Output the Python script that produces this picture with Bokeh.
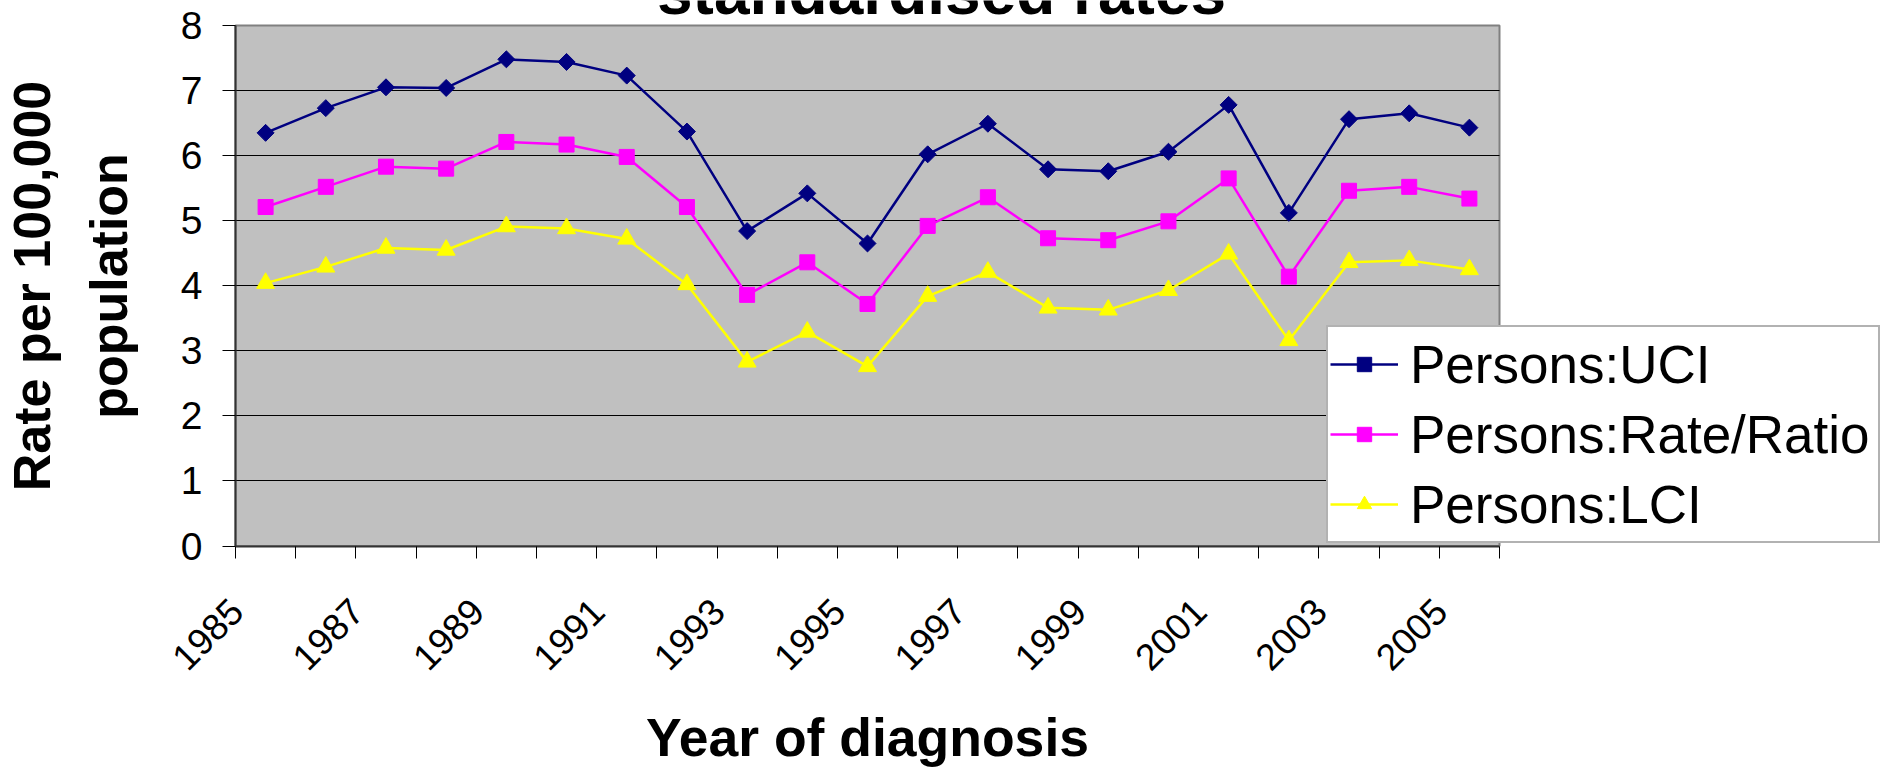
import math
from bokeh.plotting import figure
from bokeh.models import (FixedTicker, NumeralTickFormatter, Label, Legend,
                          LegendItem, Range1d, BoxAnnotation)
from bokeh.embed import file_html
from bokeh.resources import INLINE

# ---------------- data ----------------
years = list(range(1985, 2006))
uci = [6.35, 6.73, 7.05, 7.04, 7.48, 7.44, 7.23, 6.37, 4.84, 5.42, 4.65,
       6.02, 6.49, 5.79, 5.76, 6.06, 6.78, 5.12, 6.56, 6.65, 6.43]
rate = [5.21, 5.52, 5.83, 5.80, 6.21, 6.17, 5.98, 5.21, 3.86, 4.36, 3.72,
        4.92, 5.36, 4.73, 4.70, 4.99, 5.65, 4.14, 5.46, 5.52, 5.34]
lci = [4.04, 4.29, 4.58, 4.55, 4.91, 4.88, 4.72, 4.02, 2.83, 3.29, 2.76,
       3.84, 4.21, 3.66, 3.63, 3.93, 4.49, 3.16, 4.36, 4.39, 4.25]
series_names = ["Persons:UCI", "Persons:Rate/Ratio", "Persons:LCI"]
label_years = [1985, 1987, 1989, 1991, 1993, 1995, 1997, 1999, 2001, 2003, 2005]
y_ticks = [0, 1, 2, 3, 4, 5, 6, 7, 8]
title_text = "standardised rates"
x_title = "Year of diagnosis"
y_title = "Rate per 100,000\npopulation"

FONT = "Liberation Sans"

# ---------------- layout (canvas pixels) ----------------
W, H = 1885, 771
PX_LEFT, PX_RIGHT = 235.0, 1499.0      # plot-area left / right
PX_TOP, PX_BOT = 25.0, 545.5           # plot-area top / bottom

x_start, x_end = years[0] - 0.5, years[-1] + 0.5
y_start, y_end = y_ticks[0], y_ticks[-1]
xs = (PX_RIGHT - PX_LEFT) / (x_end - x_start)
ys = (PX_BOT - PX_TOP) / (y_end - y_start)
x_range = Range1d(x_start - PX_LEFT / xs, x_end + (W - PX_RIGHT) / xs)
y_range = Range1d(y_start - (H - PX_BOT) / ys, y_end + PX_TOP / ys)

p = figure(width=W, height=H, output_backend="svg", toolbar_location=None,
           x_range=x_range, y_range=y_range, min_border=0)
p.background_fill_color = "white"
p.border_fill_color = "white"
p.outline_line_color = None

# grey plot area with border
p.add_layout(BoxAnnotation(left=x_start, right=x_end, bottom=y_start, top=y_end,
                           fill_color="#C0C0C0", fill_alpha=1.0,
                           line_color="#808080", line_width=2, line_alpha=1.0,
                           level="image"))

# ---- x axis ----
xa = p.xaxis[0]
xa.fixed_location = y_start
xa.bounds = (x_start, x_end)
xa.ticker = FixedTicker(ticks=[y - 0.48 for y in label_years],
                        minor_ticks=[y - 0.5 for y in years] + [x_end])
xa.formatter = NumeralTickFormatter(format="0")
xa.major_tick_out = 0
xa.major_tick_in = 0
xa.minor_tick_out = 12
xa.minor_tick_in = 0
xa.minor_tick_line_color = "black"
xa.axis_line_color = "#333333"
xa.axis_line_width = 2
xa.major_label_orientation = math.pi / 4
xa.major_label_standoff = 47
xa.major_label_text_font = FONT
xa.major_label_text_font_size = "37px"
xa.major_label_text_color = "black"
xa.axis_label = x_title
xa.axis_label_text_font = FONT
xa.axis_label_text_font_size = "53.5px"
xa.axis_label_text_font_style = "bold"
xa.axis_label_text_color = "black"
xa.axis_label_standoff = 23

# ---- y axis ----
ya = p.yaxis[0]
ya.fixed_location = x_start
ya.bounds = (y_start, y_end)
ya.ticker = FixedTicker(ticks=y_ticks)
ya.major_tick_out = 13
ya.major_tick_in = 0
ya.minor_tick_out = 0
ya.minor_tick_in = 0
ya.major_tick_line_color = "black"
ya.axis_line_color = "#333333"
ya.axis_line_width = 2
ya.major_label_standoff = 20
ya.major_label_text_font = FONT
ya.major_label_text_font_size = "39px"
ya.major_label_text_color = "black"
ya.axis_label = y_title
ya.axis_label_text_font = FONT
ya.axis_label_text_font_size = "52px"
ya.axis_label_text_font_style = "bold"
ya.axis_label_text_color = "black"
ya.axis_label_standoff = 40
ya.axis_label_text_line_height = 1.32

# ---- grid lines, only inside the plot area ----
p.xgrid.visible = False
yg = p.ygrid[0]
yg.ticker = FixedTicker(ticks=y_ticks[1:-1])
yg.grid_line_color = "black"
yg.grid_line_width = 1
try:
    yg.cross_bounds = (x_start, x_end)
except Exception:
    yg.visible = False
    inner = y_ticks[1:-1]
    p.segment(x0=[x_start] * len(inner), y0=inner,
              x1=[x_end] * len(inner), y1=inner,
              line_color="black", line_width=1)

# ---- series ----
styles = [
    dict(color="#000080", marker="square", angle=math.pi / 4, size=12),
    dict(color="#FF00FF", marker="square", angle=0.0, size=15),
    dict(color="#FFFF00", marker="triangle", angle=0.0, size=18),
]
items = []
for name, vals, st in zip(series_names, [uci, rate, lci], styles):
    ln = p.line(years, vals, line_color=st["color"], line_width=2.5)
    sc = p.scatter(years, vals, marker=st["marker"], size=st["size"],
                   angle=st["angle"], fill_color=st["color"],
                   line_color=st["color"], line_width=1)
    items.append(LegendItem(label=name, renderers=[ln, sc]))

legend = Legend(items=items, location=(1326, H - 543))
legend.label_text_font = FONT
legend.label_text_font_size = "53px"
legend.label_text_color = "black"
legend.label_height = 70
legend.label_width = 466
legend.glyph_height = 36
legend.glyph_width = 68
legend.label_standoff = 12
legend.spacing = 0
legend.padding = 2
legend.margin = 0
legend.border_line_color = "#666666"
legend.border_line_width = 2
legend.background_fill_color = "white"
legend.background_fill_alpha = 1.0
p.add_layout(legend, "center")

# ---- chart title (its upper part lies above the picture, as in the source) ----
p.add_layout(Label(x=1996.23, y=y_end - 2.0 / ys, text=title_text, text_font=FONT,
                   text_font_size="64px", text_font_style="bold",
                   text_align="center", text_baseline="bottom",
                   text_color="black"))

open("out.html", "w").write(file_html(p, INLINE))
